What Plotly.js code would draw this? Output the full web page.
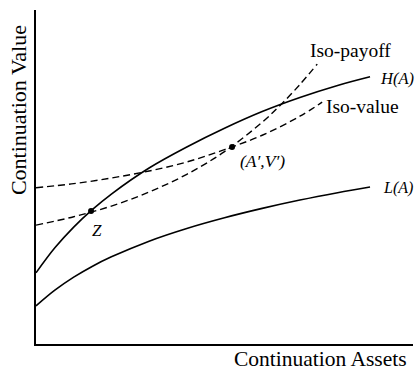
<!DOCTYPE html>
<html>
<head>
<meta charset="utf-8">
<script src="https://cdn.plot.ly/plotly-3.0.1.min.js"></script>
<style>html,body{margin:0;padding:0;background:#fff;}#chart{width:415px;height:373px;}</style>
</head>
<body>
<div id="chart"></div>
<script>
// Continuation assets (x) and values
const xH = [0, 0.5, 1, 1.5, 2, 3, 4, 5, 6, 7, 8, 8.86];
const yH = [2.13, 2.88, 3.50, 4.03, 4.49, 5.27, 5.90, 6.46, 6.96, 7.38, 7.74, 8.00];

const xL = [0, 0.5, 1, 1.5, 2, 3, 4, 5, 6, 7, 8, 8.86];
const yL = [1.14, 1.61, 2.00, 2.33, 2.61, 3.08, 3.46, 3.78, 4.06, 4.31, 4.53, 4.70];

const xIsoValue = [0, 1, 2, 3, 4, 5, 6, 7, 7.59];
const yIsoValue = [4.68, 4.80, 4.97, 5.18, 5.45, 5.82, 6.25, 6.82, 7.24];

const xIsoPayoff = [0, 1, 2, 3, 4, 5, 6, 6.5, 7, 7.46];
const yIsoPayoff = [3.56, 3.81, 4.13, 4.55, 5.08, 5.76, 6.64, 7.17, 7.77, 8.38];

const pointLabels = ["Z", "(A′,V′)"];
const xPoints = [1.46, 5.2];
const yPoints = [3.98, 5.9];

const font = '"Liberation Serif", "Times New Roman", serif';

const solid = {color: '#000', width: 1.6, shape: 'spline'};
const dashed = {color: '#000', width: 1.4, dash: '7px,4px', shape: 'spline'};

const traces = [
  {x: xH, y: yH, mode: 'lines', line: solid, name: 'H(A)', hoverinfo: 'skip'},
  {x: xL, y: yL, mode: 'lines', line: solid, name: 'L(A)', hoverinfo: 'skip'},
  {x: xIsoValue, y: yIsoValue, mode: 'lines', line: dashed, name: 'Iso-value', hoverinfo: 'skip'},
  {x: xIsoPayoff, y: yIsoPayoff, mode: 'lines', line: dashed, name: 'Iso-payoff', hoverinfo: 'skip'},
  {x: xPoints, y: yPoints, mode: 'markers', marker: {color: '#000', size: 6}, name: 'points', hoverinfo: 'skip'}
];

const layout = {
  width: 415, height: 373,
  margin: {l: 36, r: 2, t: 10, b: 29},
  paper_bgcolor: '#fff', plot_bgcolor: '#fff',
  showlegend: false,
  font: {family: font, color: '#000'},
  xaxis: {range: [0, 10], showline: true, linewidth: 2, linecolor: '#000', showgrid: false,
          zeroline: false, showticklabels: false, ticks: '', fixedrange: true},
  yaxis: {range: [0, 10], showline: true, linewidth: 2, linecolor: '#000', showgrid: false,
          zeroline: false, showticklabels: false, ticks: '', fixedrange: true},
  annotations: [
    {xref: 'paper', yref: 'paper', x: -0.048, y: 0.70, text: 'Continuation Value', textangle: -90,
     showarrow: false, xanchor: 'center', yanchor: 'middle', font: {family: font, size: 22, color: '#000'}},
    {xref: 'paper', yref: 'paper', x: 0.755, y: -0.083, text: 'Continuation Assets',
     showarrow: false, xanchor: 'center', yanchor: 'bottom', borderpad: 0,
     font: {family: font, size: 21.5, color: '#000'}},
    {x: 8.33, y: 8.80, text: 'Iso-payoff', showarrow: false, xanchor: 'center', yanchor: 'middle',
     font: {family: font, size: 19.5, color: '#000'}},
    {x: 8.67, y: 7.10, text: 'Iso-value', showarrow: false, xanchor: 'center', yanchor: 'middle',
     font: {family: font, size: 19.5, color: '#000'}},
    {x: 9.07, y: 7.96, text: '<i>H(A)</i>', showarrow: false, xanchor: 'left', yanchor: 'middle',
     font: {family: font, size: 16.5, color: '#000'}},
    {x: 9.18, y: 4.67, text: '<i>L(A)</i>', showarrow: false, xanchor: 'left', yanchor: 'middle', borderpad: 0,
     font: {family: font, size: 16, color: '#000'}},
    {x: 5.36, y: 5.48, text: '<i>' + pointLabels[1] + '</i>', showarrow: false, xanchor: 'left', yanchor: 'middle',
     font: {family: font, size: 17.5, color: '#000'}},
    {x: 1.62, y: 3.41, text: '<i>' + pointLabels[0] + '</i>', showarrow: false, xanchor: 'center', yanchor: 'middle',
     font: {family: font, size: 17, color: '#000'}}
  ]
};

Plotly.newPlot('chart', traces, layout, {displayModeBar: false, staticPlot: true});
</script>
</body>
</html>
